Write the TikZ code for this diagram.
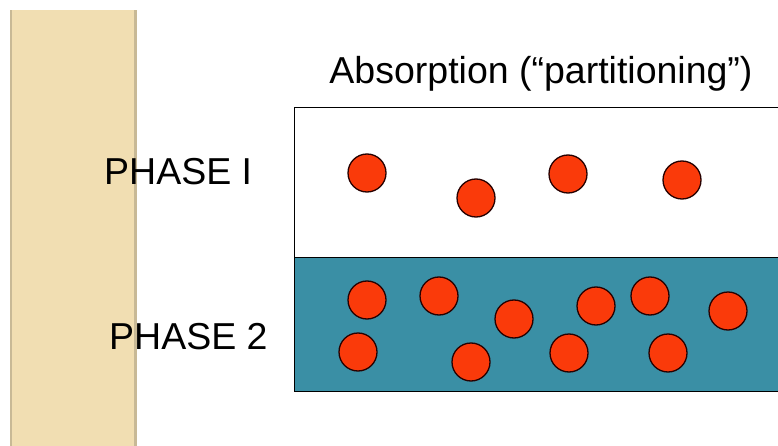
\documentclass[tikz,border=0pt]{standalone}
\usepackage{fontspec}
\setmainfont{Liberation Sans}
\definecolor{beige}{RGB}{241,222,178}
\definecolor{beigeedge}{RGB}{200,185,150}
\definecolor{tealfill}{RGB}{58,143,165}
\definecolor{particle}{RGB}{250,58,10}
\begin{document}
\begin{tikzpicture}[x=1pt,y=-1pt,
  particlestyle/.style={circle,draw=black!85!red,line width=1.3pt,fill=particle,minimum size=38pt,inner sep=0pt},
  lbl/.style={font=\fontsize{37.5}{42}\selectfont,inner sep=0pt}]
\useasboundingbox (0,0) rectangle (778,446);
\fill[white] (0,0) rectangle (778,446);
% beige strip
\fill[beige] (10,10) rectangle (137,446);
\fill[beigeedge] (10,10) rectangle (12,446);
\fill[beigeedge] (134,10) rectangle (137,446);
% box (extends past the right edge)
\begin{scope}
\clip (0,0) rectangle (778,446);
\node[draw=black,line width=1pt,fill=white,minimum width=500pt,minimum height=151pt,inner sep=0pt,anchor=north west] (phaseone) at (294,107) {};
\node[draw=black,line width=1pt,fill=tealfill,minimum width=500pt,minimum height=134pt,inner sep=0pt,anchor=north west] (phasetwo) at (294,257) {};
\end{scope}
% labels
\node[lbl] (title) at (541,74) {Absorption (“partitioning”)};
\node[lbl,anchor=west] (labone) at (104,172) {PHASE I};
\node[lbl,anchor=west] (labtwo) at (109,337) {PHASE 2};
% particles phase I
\node[particlestyle] (a1) at (367,173) {};
\node[particlestyle] (a2) at (476,198) {};
\node[particlestyle] (a3) at (568,174) {};
\node[particlestyle] (a4) at (682,180) {};
% particles phase 2
\node[particlestyle] (b1) at (367,300) {};
\node[particlestyle] (b2) at (439,296) {};
\node[particlestyle] (b3) at (514,319) {};
\node[particlestyle] (b4) at (596,306) {};
\node[particlestyle] (b5) at (650,296) {};
\node[particlestyle] (b6) at (728,311) {};
\node[particlestyle] (b7) at (358,352) {};
\node[particlestyle] (b8) at (471,362) {};
\node[particlestyle] (b9) at (569,353) {};
\node[particlestyle] (b10) at (668,353) {};
\end{tikzpicture}
\end{document}
